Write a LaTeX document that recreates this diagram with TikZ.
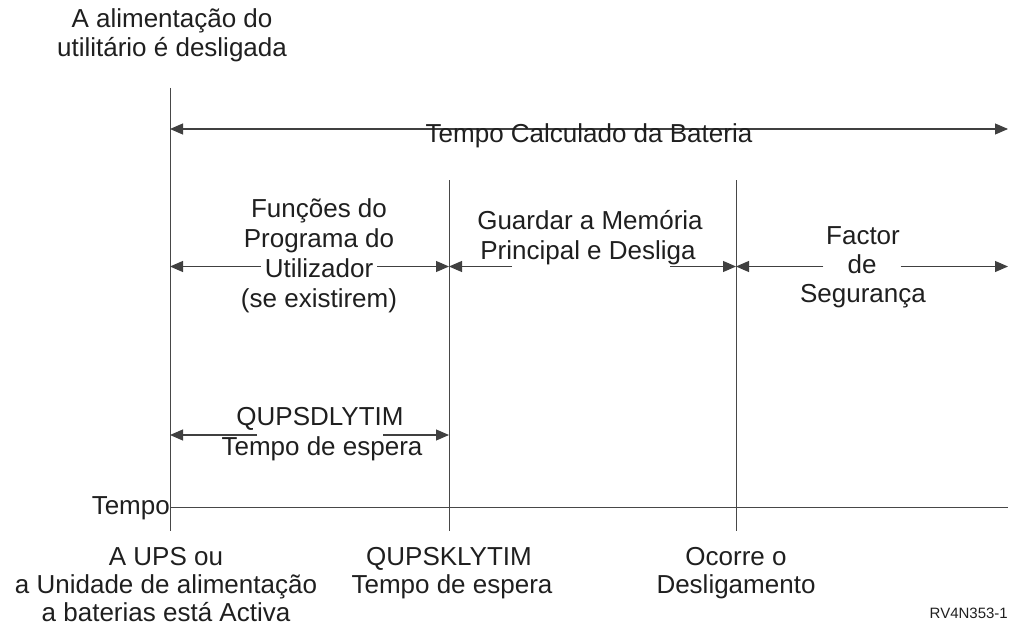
\documentclass[tikz,border=0pt]{standalone}
\usepackage{fontspec}
\setmainfont{Liberation Sans}
\usetikzlibrary{arrows.meta}
\begin{document}
\begin{tikzpicture}[x=1pt,y=-1pt,
  txt/.style={anchor=base, inner sep=0pt, font=\fontsize{26}{29}\selectfont, text=black!88},
  small/.style={anchor=base east, inner sep=0pt, font=\fontsize{15}{17}\selectfont, text=black!88},
  vline/.style={draw=black!72, line width=1pt},
  dim/.style={draw=black!75, line width=1.1pt},
  tipR/.style={-{Triangle[length=13pt,width=11pt]}},
  tipL/.style={{Triangle[length=13pt,width=11pt]}-},
  tipLR/.style={{Triangle[length=13pt,width=11pt]}-{Triangle[length=13pt,width=11pt]}}
]
\useasboundingbox (0,0) rectangle (1010,626);

% vertical lines and time axis
\coordinate (t1) at (170,88);  \coordinate (b1) at (170,531);
\coordinate (t2) at (449,180); \coordinate (b2) at (449,531);
\coordinate (t3) at (736,180); \coordinate (b3) at (736,531);
\coordinate (ax0) at (170,507); \coordinate (ax1) at (1008,507);
\draw[vline] (t1) -- (b1);
\draw[vline] (t2) -- (b2);
\draw[vline] (t3) -- (b3);
\draw[vline] (ax0) -- (ax1);
\node[txt, anchor=base east] (tempo) at (170,514) {Tempo};

% top label
\node[txt] (top1) at (172,28) {A alimentação do};
\node[txt] (top2) at (172,57) {utilitário é desligada};

% total battery time
\coordinate (ta0) at (170,129); \coordinate (ta1) at (1008,129);
\draw[dim, tipLR] (ta0) -- (ta1);
\node[txt] (calc) at (589,142) {Tempo Calculado da Bateria};

% row 2 : user program functions
\coordinate (r1a) at (170,266.5); \coordinate (r1b) at (449,266.5);
\node[txt] (f1) at (319,217) {Funções do};
\node[txt] (f2) at (319,247) {Programa do};
\node[txt, inner xsep=4pt] (util) at (319,277) {Utilizador};
\node[txt] (f4) at (319,307) {(se existirem)};
\draw[dim, tipL] (r1a) -- (util.west |- r1a);
\draw[dim, tipR] (util.east |- r1a) -- (r1b);

% row 2 : save main memory
\coordinate (g1) at (512,266.5); \coordinate (g2) at (670,266.5);
\coordinate (r2b) at (736,266.5);
\node[txt] (m1) at (590,229) {Guardar a Memória};
\node[txt] (m2) at (588,259) {Principal e Desliga};
\draw[dim, tipR] (g1) -- (r1b);
\draw[dim, tipR] (g2) -- (r2b);

% row 2 : safety factor
\coordinate (r3b) at (1008,266.5);
\node[txt] (s1) at (863,244) {Factor};
\node[txt, inner xsep=24pt] (sde) at (862,273) {de};
\node[txt] (s3) at (863,302) {Segurança};
\draw[dim, tipR] (sde.west |- r2b) -- (r2b);
\draw[dim, tipR] (sde.east |- r2b) -- (r3b);

% row 3 : QUPSDLYTIM
\coordinate (q0) at (170,435); \coordinate (q1) at (449,435);
\coordinate (qa) at (257,435); \coordinate (qb) at (383,435);
\node[txt] (d1) at (320,425) {QUPSDLYTIM};
\node[txt] (d2) at (322,455) {Tempo de espera};
\draw[dim, tipR] (qa) -- (q0);
\draw[dim, tipR] (qb) -- (q1);

% bottom labels
\node[txt] (u1) at (166,565) {A UPS ou};
\node[txt] (u2) at (166,593) {a Unidade de alimentação};
\node[txt] (u3) at (166,621) {a baterias está Activa};
\node[txt] (k1) at (449,565) {QUPSKLYTIM};
\node[txt] (k2) at (452,593) {Tempo de espera};
\node[txt] (o1) at (736,565) {Ocorre o};
\node[txt] (o2) at (736,593) {Desligamento};
\node[small] (ref) at (1008,618) {RV4N353-1};
\end{tikzpicture}
\end{document}
